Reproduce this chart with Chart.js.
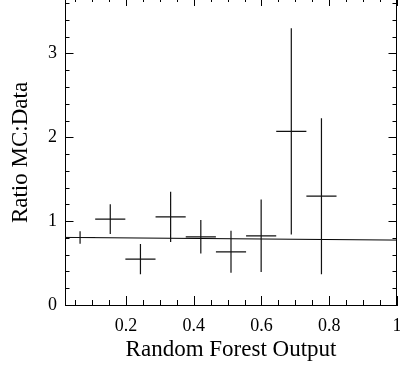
<!DOCTYPE html>
<html>
<head>
<meta charset="utf-8">
<script src="https://cdn.jsdelivr.net/npm/chart.js@4/dist/chart.umd.min.js"></script>
<style>
html,body{margin:0;padding:0;background:#fff;}
#c{display:block;}
</style>
</head>
<body>
<canvas id="c" width="400" height="369"></canvas>
<script>
// ---- data ----
const xCenters = [0.0645, 0.1536, 0.2427, 0.3318, 0.4209, 0.5100, 0.5990, 0.6880, 0.7770];
const xErr     = [0.0445, 0.0445, 0.0445, 0.0445, 0.0445, 0.0445, 0.0445, 0.0445, 0.0445];
const ratioVals = [0.805, 1.024, 0.547, 1.051, 0.813, 0.634, 0.825, 2.070, 1.298];
const ratioErr  = [0.075, 0.177, 0.180, 0.300, 0.200, 0.250, 0.432, 1.230, 0.930];
const fitX = [0.02, 1.0];
const fitY = [0.806, 0.774];
const xTickValues = [0.2, 0.4, 0.6, 0.8, 1.0];
const xTickLabels = ['0.2', '0.4', '0.6', '0.8', '1'];
const yTickValues = [0, 1, 2, 3];
const yTickLabels = ['0', '1', '2', '3'];
const xRange = [0.02, 1.0];
const yRange = [0, 3.637];

// ---- build datasets ----
const errData = [];
xCenters.forEach((x, i) => {
  const y = ratioVals[i], e = ratioErr[i], w = xErr[i];
  errData.push({x: x, y: y - e}, {x: x, y: y + e}, {x: x, y: null});
  errData.push({x: x - w, y: y}, {x: x + w, y: y}, {x: x, y: null});
});
const fitData = fitX.map((x, i) => ({x: x, y: fitY[i]}));

function findLabel(v, vals, labels) {
  for (let i = 0; i < vals.length; i++) if (Math.abs(v - vals[i]) < 1e-6) return labels[i];
  return '';
}
function isMajor(v, vals) {
  return vals.some(t => Math.abs(v - t) < 1e-6);
}

const FONT = "'Liberation Serif', 'Times New Roman', serif";

const rootTicks = {
  id: 'rootTicks',
  afterDraw(chart) {
    const ctx = chart.ctx;
    const a = chart.chartArea;
    const xs = chart.scales.x, ys = chart.scales.y;
    ctx.save();
    ctx.strokeStyle = '#000';
    ctx.lineWidth = 1;
    ctx.beginPath();
    // right frame line
    ctx.moveTo(Math.round(a.right) - 0.5, a.top);
    ctx.lineTo(Math.round(a.right) - 0.5, a.bottom);
    const topFrame = a.top - 3;
    xs.ticks.forEach(t => {
      const px = Math.round(xs.getPixelForValue(t.value)) + 0.5;
      const major = isMajor(t.value, xTickValues);
      const len = major ? 9 : 5;
      ctx.moveTo(px, a.bottom);
      ctx.lineTo(px, a.bottom - len);
      ctx.moveTo(px, topFrame);
      ctx.lineTo(px, topFrame + len);
    });
    ys.ticks.forEach(t => {
      const py = Math.round(ys.getPixelForValue(t.value)) + 0.5;
      const major = isMajor(t.value, yTickValues);
      const len = major ? 8.5 : 4.5;
      ctx.moveTo(a.left, py);
      ctx.lineTo(a.left + len, py);
      ctx.moveTo(a.right, py);
      ctx.lineTo(a.right - len, py);
    });
    ctx.stroke();
    ctx.restore();
  }
};

new Chart(document.getElementById('c'), {
  type: 'scatter',
  data: {
    datasets: [
      {
        data: errData,
        showLine: true,
        spanGaps: false,
        borderColor: '#111',
        borderWidth: 1.2,
        pointRadius: 0,
        pointHoverRadius: 0,
        fill: false
      },
      {
        data: fitData,
        showLine: true,
        borderColor: '#000',
        borderWidth: 1,
        pointRadius: 0,
        pointHoverRadius: 0,
        fill: false
      }
    ]
  },
  options: {
    responsive: false,
    devicePixelRatio: 1,
    animation: false,
    layout: {padding: {top: 0, right: 3, left: 0, bottom: 0}},
    plugins: {legend: {display: false}, tooltip: {enabled: false}},
    scales: {
      x: {
        type: 'linear',
        min: xRange[0],
        max: xRange[1],
        grid: {display: false, drawTicks: false},
        border: {display: true, color: '#000', width: 1},
        ticks: {
          stepSize: 0.05,
          includeBounds: false,
          autoSkip: false,
          maxRotation: 0,
          padding: 10,
          color: '#000',
          font: {family: FONT, size: 18},
          callback: v => findLabel(v, xTickValues, xTickLabels)
        },
        title: {
          display: true,
          text: 'Random Forest Output',
          color: '#000',
          font: {family: FONT, size: 23},
          padding: {top: 0, bottom: 5}
        },
        afterFit: s => { s.height = 64; s.paddingLeft = 0; s.paddingRight = 0; }
      },
      y: {
        type: 'linear',
        min: yRange[0],
        max: yRange[1],
        grid: {display: false, drawTicks: false},
        border: {display: true, color: '#000', width: 1},
        ticks: {
          stepSize: 0.2,
          includeBounds: false,
          autoSkip: false,
          padding: 8,
          color: '#000',
          font: {family: FONT, size: 18},
          callback: v => findLabel(v, yTickValues, yTickLabels)
        },
        title: {
          display: true,
          text: 'Ratio MC:Data',
          color: '#000',
          font: {family: FONT, size: 23},
          padding: {top: 7, bottom: 0}
        },
        afterFit: s => { s.width = 65; s.paddingTop = 0; s.paddingBottom = 0; }
      }
    }
  },
  plugins: [rootTicks]
});
</script>
</body>
</html>
